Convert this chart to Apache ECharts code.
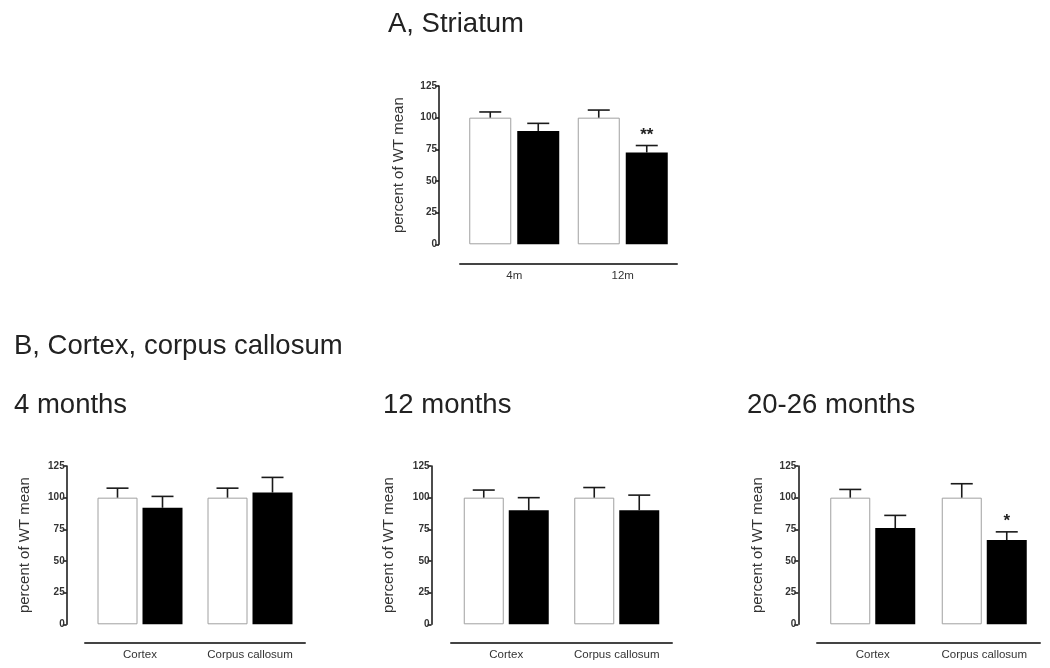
<!DOCTYPE html>
<html><head><meta charset="utf-8">
<script src="https://cdn.jsdelivr.net/npm/echarts@6/dist/echarts.min.js"></script>
<style>html,body{margin:0;padding:0;background:#fff}#c{width:1050px;height:668px}</style>
</head><body><div id="c"></div>
<script>
// ---- data ----
const yTickMin = 0, yTickMax = 125, yTickStep = 25;
const catsA = ['4m', '12m'];
const wtA = [100, 100];
const wtSemA = [4.5, 6];
const mutA = [89.5, 72.5];
const mutSemA = [6, 5.5];
const sigA = ['', '**'];

const catsB = ['Cortex', 'Corpus callosum'];
const wt4 = [100, 100];
const wtSem4 = [7.5, 7.5];
const mut4 = [92, 104];
const mutSem4 = [9, 12];
const sig4 = ['', ''];

const wt12 = [100, 100];
const wtSem12 = [6, 8];
const mut12 = [90, 90];
const mutSem12 = [10, 12];
const sig12 = ['', ''];

const wt20 = [100, 100];
const wtSem20 = [6.5, 11];
const mut20 = [76, 66.5];
const mutSem20 = [10, 6.5];
const sig20 = ['', '*'];

const titles = ['A, Striatum', 'B, Cortex, corpus callosum', '4 months', '12 months', '20-26 months'];
const yName = 'percent of WT mean';

// ---- layout / style ----
const FONT = 'Liberation Sans, Arial, sans-serif';
const panels = [
  {cats: catsA, wt: wtA, wtSem: wtSemA, mut: mutA, mutSem: mutSemA, sig: sigA,
   grid: {left: 460, width: 217, top: 86, height: 158.3}, yOff: 21, xOff: 19, nameGap: 33, bw: 42, gap: 6},
  {cats: catsB, wt: wt4, wtSem: wtSem4, mut: mut4, mutSem: mutSem4, sig: sig4,
   grid: {left: 85, width: 220, top: 466, height: 158.3}, yOff: 18.3, xOff: 18, nameGap: 34, bw: 40, gap: 5},
  {cats: catsB, wt: wt12, wtSem: wtSem12, mut: mut12, mutSem: mutSem12, sig: sig12,
   grid: {left: 451, width: 221, top: 466, height: 158.3}, yOff: 19.5, xOff: 18, nameGap: 35, bw: 40, gap: 5},
  {cats: catsB, wt: wt20, wtSem: wtSem20, mut: mut20, mutSem: mutSem20, sig: sig20,
   grid: {left: 817, width: 223, top: 466, height: 158.3}, yOff: 18.7, xOff: 18, nameGap: 33, bw: 40, gap: 5}
];

const grids = [], xAxes = [], yAxes = [], series = [];

function errSeries(i, vals, sems, sigs, shift) {
  return {
    type: 'custom', xAxisIndex: i, yAxisIndex: i, z: 5, silent: true,
    data: vals.map((v, k) => [k, v, v + sems[k]]),
    renderItem: function (params, api) {
      const base = api.coord([api.value(0), api.value(1)]);
      const top = api.coord([api.value(0), api.value(2)]);
      const x = base[0] + shift;
      const children = [
        {type: 'line', shape: {x1: x, y1: base[1], x2: x, y2: top[1]}, style: {stroke: '#1a1a1a', lineWidth: 1.6}},
        {type: 'line', shape: {x1: x - 11, y1: top[1], x2: x + 11, y2: top[1]}, style: {stroke: '#1a1a1a', lineWidth: 1.6}}
      ];
      const s = sigs[params.dataIndex];
      if (s) {
        children.push({type: 'text', x: x, y: top[1] - 2,
          style: {text: s, fill: '#222', font: 'bold 17px ' + FONT, textAlign: 'center', textVerticalAlign: 'bottom'}});
      }
      return {type: 'group', children: children};
    }
  };
}

panels.forEach((p, i) => {
  grids.push(Object.assign({containLabel: false}, p.grid));
  xAxes.push({
    type: 'category', gridIndex: i, data: p.cats, offset: p.xOff,
    axisLine: {onZero: false, lineStyle: {color: '#444', width: 2}},
    axisTick: {alignWithLabel: true, length: 3, lineStyle: {color: '#222', width: 1.5}},
    axisLabel: {interval: 0, fontSize: 11.5, color: '#333', fontFamily: FONT, margin: 7}
  });
  yAxes.push({
    type: 'value', gridIndex: i, min: yTickMin, max: yTickMax, interval: yTickStep, offset: p.yOff,
    name: yName, nameLocation: 'middle', nameGap: p.nameGap, nameRotate: 90,
    nameTextStyle: {fontSize: 15, color: '#333', fontFamily: FONT},
    axisLine: {show: true, lineStyle: {color: '#111', width: 1.5}},
    axisTick: {show: true, length: 4, lineStyle: {color: '#111', width: 1.5}},
    axisLabel: {fontSize: 10, color: '#333', fontFamily: FONT, margin: 2, fontWeight: 'bold'},
    splitLine: {show: false}
  });
  const gapPct = (p.gap / p.bw * 100) + '%';
  series.push({type: 'bar', xAxisIndex: i, yAxisIndex: i, data: p.wt, barWidth: p.bw, barGap: gapPct,
    itemStyle: {color: '#fff', borderColor: '#a0a0a0', borderWidth: 1}, silent: true});
  series.push({type: 'bar', xAxisIndex: i, yAxisIndex: i, data: p.mut, barWidth: p.bw, barGap: gapPct,
    itemStyle: {color: '#000', borderColor: '#000', borderWidth: 0}, silent: true});
  const shift = (p.bw + p.gap) / 2;
  series.push(errSeries(i, p.wt, p.wtSem, ['', ''], -shift));
  series.push(errSeries(i, p.mut, p.mutSem, p.sig, shift));
});

const tStyle = {fontSize: 27.5, color: '#222', fontWeight: 'normal', fontFamily: FONT};
const option = {
  backgroundColor: '#fff',
  animation: false,
  title: [
    {text: titles[0], left: 383, top: 5, textStyle: tStyle},
    {text: titles[1], left: 9, top: 327, textStyle: tStyle},
    {text: titles[2], left: 9, top: 386, textStyle: tStyle},
    {text: titles[3], left: 378, top: 386, textStyle: tStyle},
    {text: titles[4], left: 742, top: 386, textStyle: tStyle}
  ],
  grid: grids, xAxis: xAxes, yAxis: yAxes, series: series
};
const chart = echarts.init(document.getElementById('c'), null, {renderer: 'canvas'});
chart.setOption(option);
</script></body></html>
